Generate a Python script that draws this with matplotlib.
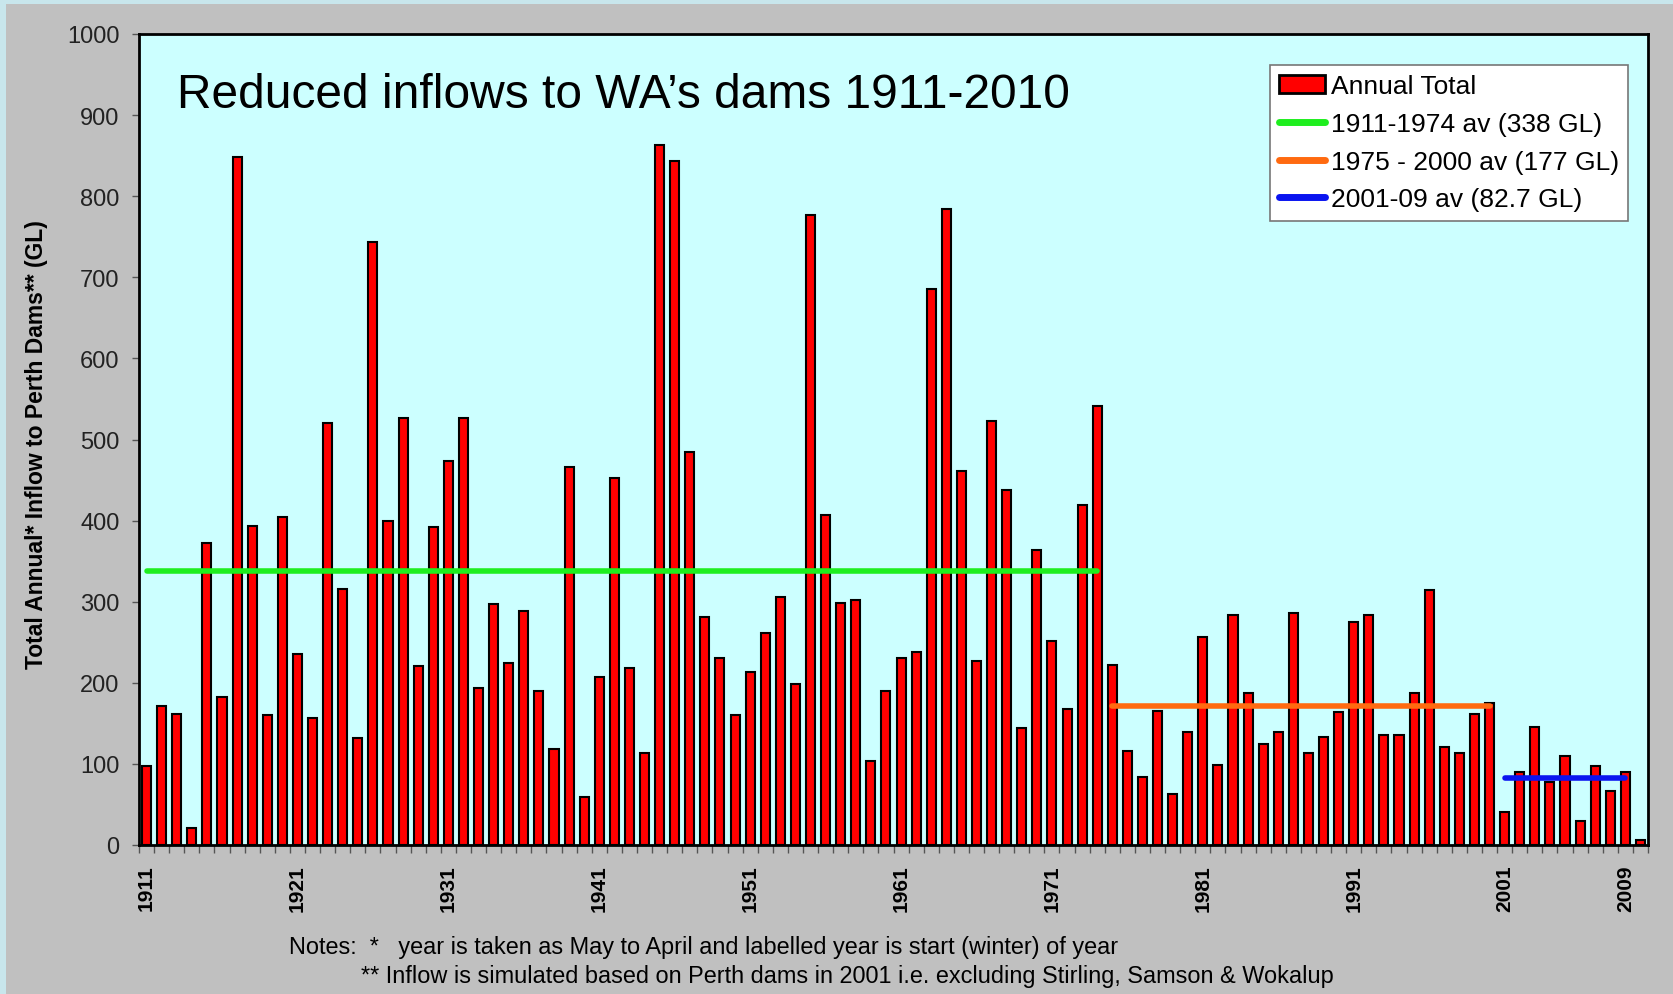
import matplotlib.pyplot as plt
from matplotlib.patches import Rectangle, Patch
from matplotlib.lines import Line2D

# Annual inflow to Perth dams (GL), May-April years labelled by start year
years = list(range(1911, 2011))
inflow = [
    97, 172, 162, 21, 372, 183, 848, 393, 160, 404,      # 1911-1920
    236, 157, 520, 316, 132, 744, 399, 526, 221, 392,    # 1921-1930
    473, 526, 193, 297, 224, 288, 190, 118, 466, 59,     # 1931-1940
    207, 453, 218, 114, 863, 844, 485, 281, 230, 160,    # 1941-1950
    213, 261, 306, 198, 777, 407, 299, 302, 104, 190,    # 1951-1960
    231, 238, 686, 784, 461, 227, 523, 438, 144, 364,    # 1961-1970
    251, 168, 419, 541, 222, 116, 84, 165, 63, 139,      # 1971-1980
    257, 99, 284, 187, 125, 139, 286, 113, 133, 164,     # 1981-1990
    275, 284, 136, 136, 188, 315, 121, 113, 161, 175,    # 1991-2000
    41, 90, 146, 78, 110, 29, 97, 67, 90, 6,             # 2001-2010
]

# period averages (drawn level, as in the picture)
avg_start = [1911, 1975, 2001]
avg_end = [1974, 2000, 2009]
avg_value = [338, 172, 82.5]
avg_labels = ['1911-1974 av (338 GL)', '1975 - 2000 av (177 GL)', '2001-09 av (82.7 GL)']
avg_colors = ['#1EEE1E', '#FF6A10', '#0A14F0']

tick_years = [1911, 1921, 1931, 1941, 1951, 1961, 1971, 1981, 1991, 2001, 2009]

FONT = 'Liberation Sans'
plt.rcParams['font.family'] = [FONT, 'DejaVu Sans']

W, H = 1673, 995
fig = plt.figure(figsize=(W / 100, H / 100), dpi=100)
fig.patch.set_facecolor('#C8E6EC')
fig.patches.append(Rectangle((6 / W, 0), 1 - 6 / W, 1 - 5 / H, transform=fig.transFigure,
                             facecolor='#C0C0C0', edgecolor='none', zorder=-5))

ax = fig.add_axes([139 / W, (H - 846) / H, (1648 - 139) / W, (846 - 35) / H])
ax.set_zorder(2)
ax.set_facecolor('#CCFFFF')

ax.bar(years, inflow, width=0.6, color='#FF0000', edgecolor='black', linewidth=1.5, zorder=2)

for x0, x1, v, c in zip(avg_start, avg_end, avg_value, avg_colors):
    ax.plot([x0, x1], [v, v], color=c, linewidth=4, solid_capstyle='round', zorder=3)

ax.set_xlim(1910.5, 2010.5)
ax.set_ylim(0, 1000)
ax.set_yticks(range(0, 1001, 100))
ax.tick_params(axis='y', direction='out', length=5, width=1, color='#555555',
               labelsize=17, pad=9, labelcolor='#222222')
ax.set_xticks(tick_years)
ax.set_xticklabels([str(y) for y in tick_years], rotation=90, fontsize=15, fontweight='bold')
ax.set_xticks([y - 0.5 for y in years] + [2010.5], minor=True)
ax.tick_params(axis='x', which='major', length=0, pad=14)
ax.tick_params(axis='x', which='minor', direction='out', length=6, width=1, color='#555555')
for s in ax.spines.values():
    s.set_color('black')
    s.set_linewidth(2)

fig.text(0.022, 0.553, 'Total Annual* Inflow to Perth Dams** (GL)', rotation=90,
         ha='center', va='center', fontsize=16.5, fontweight='bold')

fig.text(177 / W, (H - 108) / H, 'Reduced inflows to WA\u2019s dams 1911-2010',
         fontsize=34.5, va='baseline', ha='left')

handles = [Patch(facecolor='#FF0000', edgecolor='black', linewidth=2)]
handles += [Line2D([0], [0], color=c, linewidth=5, solid_capstyle='round') for c in avg_colors]
leg = ax.legend(handles, ['Annual Total'] + avg_labels, loc='upper right',
                bbox_to_anchor=(0.9867, 0.9618), borderaxespad=0, fontsize=19,
                frameon=True, fancybox=False, framealpha=1, edgecolor='#777777',
                handlelength=1.75, handleheight=0.65, handletextpad=0.2,
                labelspacing=0.52, borderpad=0.35)
leg.get_frame().set_linewidth(1.2)

fig.text(289 / W, (H - 948) / H,
         'Notes:  *   year is taken as May to April and labelled year is start (winter) of year',
         fontsize=16.9, va='center', ha='left')
fig.text(361 / W, (H - 977) / H,
         '** Inflow is simulated based on Perth dams in 2001 i.e. excluding Stirling, Samson & Wokalup',
         fontsize=16.9, va='center', ha='left')

fig.savefig('out.png', dpi=100, facecolor=fig.get_facecolor())
